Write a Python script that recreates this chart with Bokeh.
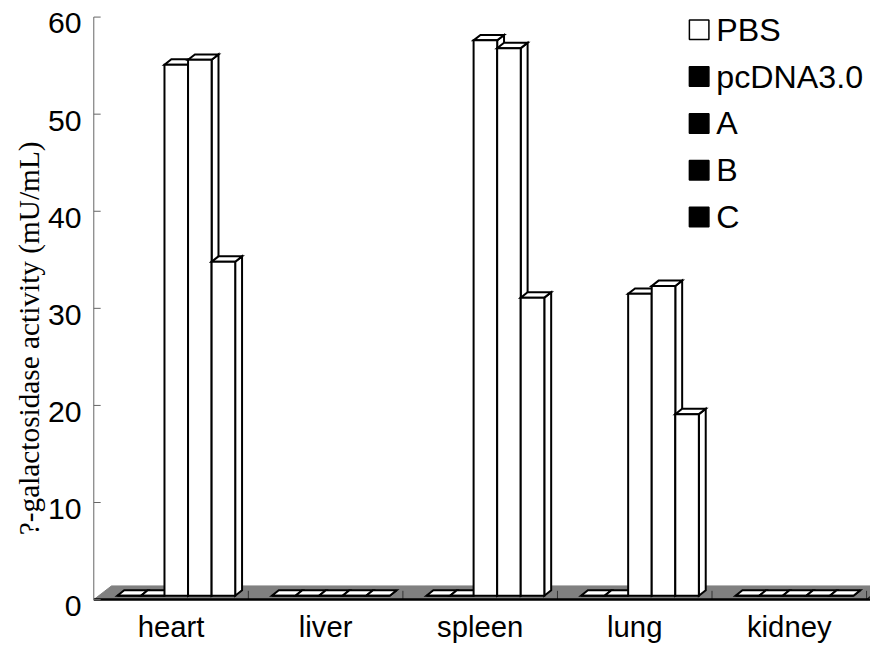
import numpy as np
from bokeh.plotting import figure
from bokeh.models import Range1d, LinearAxis, FixedTicker, Title
from bokeh.core.properties import value
from bokeh.embed import file_html
from bokeh.resources import INLINE

# ---------------- data ----------------
categories = ["heart", "liver", "spleen", "lung", "kidney"]
series = ["PBS", "pcDNA3.0", "A", "B", "C"]
pbs_vals = [0, 0, 0, 0, 0]
pcdna_vals = [0, 0, 0, 0, 0]
a_vals = [54.7, 0, 57.2, 31.1, 0]
b_vals = [55.2, 0, 56.4, 31.9, 0]
c_vals = [34.4, 0, 30.7, 18.7, 0]
y_ticks = [0, 10, 20, 30, 40, 50, 60]
y_label = "?-galactosidase activity (mU/mL)"
legend_fill = ["white", "black", "black", "black", "black"]

values = [pbs_vals, pcdna_vals, a_vals, b_vals, c_vals]

# ---------------- geometry ----------------
# layout is designed on an 886x659 sheet and scaled to the canvas
REF_W, REF_H = 886, 659
W, H = 870, 643
SX, SY = W / REF_W, H / REF_H
SF = min(SX, SY)
X0, Y0 = 95, 614          # sheet pixel of data origin
KX, KY = 157.4, 9.95      # sheet px per category, per unit


def X(px):
    return (px - X0) / KX


def Y(py):
    return (Y0 - py) / KY


def DX(d):
    return d / KX


def DY(d):
    return d / KY


def fs(px):
    return "%.1fpx" % (px * SF)


left_canvas = 92
p = figure(width=W, height=H,
           x_range=Range1d(X(left_canvas / SX), X(REF_W)),
           y_range=Range1d(Y(REF_H), Y(0)),
           output_backend="svg", toolbar_location=None,
           x_axis_location=None, y_axis_location=None,
           min_border_left=left_canvas, min_border_right=0,
           min_border_top=0, min_border_bottom=0,
           outline_line_color=None, title=None)
p.grid.grid_line_color = None
p.background_fill_color = "white"
p.border_fill_color = "white"

n = len(categories)

# floor
fdx, fdy = DX(18), DY(14)
p.patch([0, n, n + fdx, fdx], [0, 0, fdy, fdy], fill_color="#808080",
        line_color="#808080", line_width=1)
p.segment(x0=list(range(1, n + 1)), y0=[0] * n, x1=list(range(1, n + 1)),
          y1=[DY(9)] * n, line_color="#333333", line_width=1)
p.segment(x0=[n], y0=[0], x1=[n + fdx], y1=[fdy], line_color="#222222", line_width=1.5)
p.segment(x0=[0], y0=[0], x1=[X(REF_W)], y1=[0], line_color="black", line_width=2.5)

# 3D bars
bw = DX(24)
boff = DX(24)
base = DY(4)
ddx, ddy = DX(7), DY(5.5)
xs, ys = [], []
for i in range(n):
    for k, vals in enumerate(values):
        v = vals[i]
        x0 = i + boff + k * bw
        x1 = x0 + bw
        b = base
        t = base + v
        xs += [[x1, x1 + ddx, x1 + ddx, x1], [x0, x1, x1 + ddx, x0 + ddx], [x0, x1, x1, x0]]
        ys += [[b, b + ddy, t + ddy, t], [t, t, t + ddy, t + ddy], [b, b, t, t]]
p.patches(xs, ys, fill_color="white", line_color="black", line_width=2, line_join="miter")

# value axis line + inward ticks
p.segment(x0=[0], y0=[0], x1=[0], y1=[max(y_ticks)], line_color="#666666", line_width=1)
p.segment(x0=[0] * len(y_ticks), y0=y_ticks, x1=[DX(7)] * len(y_ticks), y1=y_ticks,
          line_color="#666666", line_width=1)

# category labels
p.text(x=[i + 0.5 for i in range(n)], y=[Y(642)] * n, text=categories,
       text_font=value("Liberation Sans"), text_font_size=fs(30),
       text_baseline="middle", text_align="center", text_color="black")

# legend
leg_y = [Y(30 + 48 * j) for j in range(len(series))]
p.scatter(x=[X(711.5)] * len(series), y=leg_y, marker="square", size=20 * SF,
          fill_color=legend_fill, line_color="black", line_width=1.5)
p.text(x=[X(729)] * len(series), y=leg_y, text=series,
       text_font=value("Liberation Sans"), text_font_size=fs(33),
       text_baseline="middle", text_align="left", text_color="black")

# value axis labels (slightly below their ticks, as in the original)
s = DY(6.5)
p.extra_y_ranges = {"lab": Range1d(Y(REF_H) + s, Y(0) + s)}
yaxis = LinearAxis(y_range_name="lab", ticker=FixedTicker(ticks=y_ticks),
                   axis_line_color=None, major_tick_line_color=None,
                   minor_tick_line_color=None, major_tick_in=0, major_tick_out=0,
                   major_label_text_font="Liberation Sans",
                   major_label_text_font_size=fs(31),
                   major_label_text_color="black",
                   major_label_standoff=int(round((left_canvas / SX - 82) * SX)),
                   axis_label_standoff=0)
p.add_layout(yaxis, "left")

ttl = Title(text=y_label, align="left", offset=(REF_H - 548) * SY,
            text_font="Liberation Serif", text_font_size=fs(30),
            text_font_style="normal", text_color="black", standoff=0)
p.add_layout(ttl, "left")

open("out.html", "w").write(file_html(p, INLINE))
